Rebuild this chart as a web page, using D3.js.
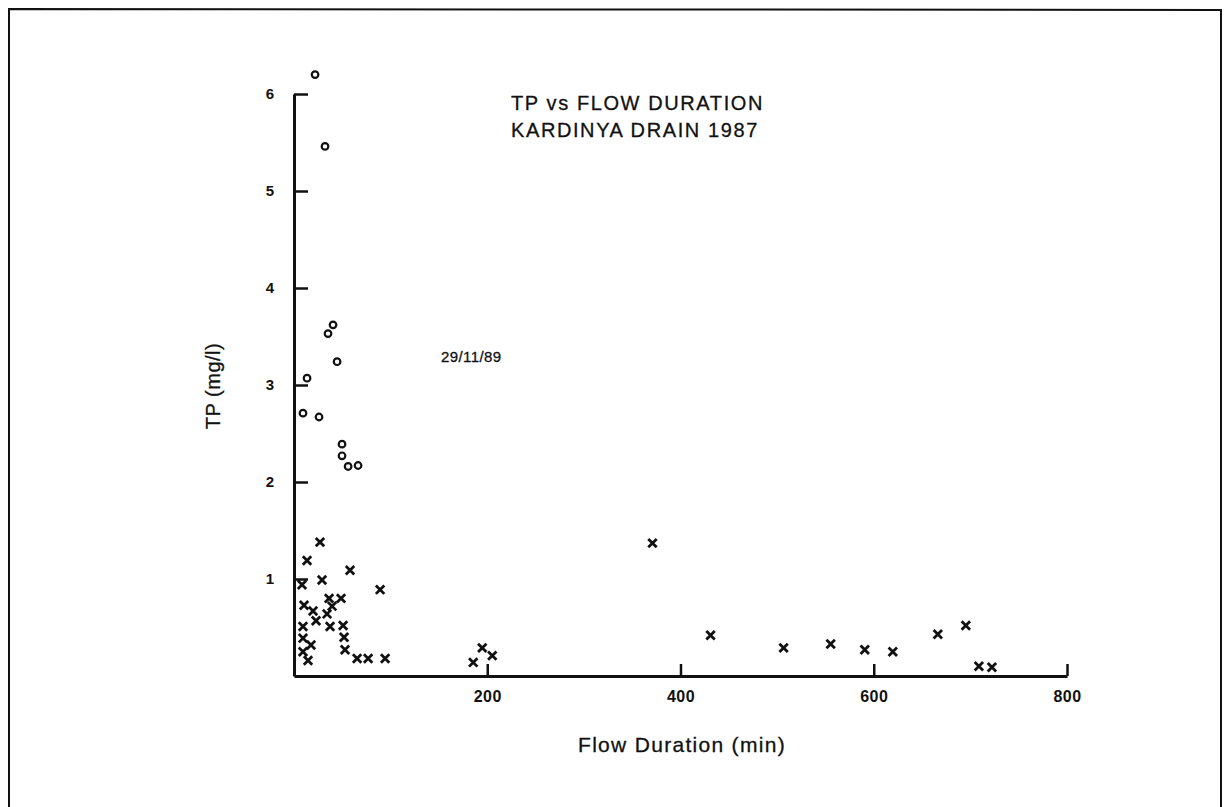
<!DOCTYPE html>
<html><head><meta charset="utf-8">
<script src="https://cdn.jsdelivr.net/npm/d3@7"></script>
<style>
body{margin:0;background:#fff;}
svg{display:block;}
text{font-family:"Liberation Sans",Arial,Helvetica,sans-serif;fill:#111;}
</style></head>
<body>
<svg id="chart" width="1229" height="807"></svg>
<script>
// Series "29/11/89" (circles)
const circleX = [21.8, 32.1, 40.4, 35.2, 44.6, 13.5, 9.3, 25.9, 49.7, 49.7, 56.0, 66.3];
const circleY = [6.20, 5.46, 3.62, 3.53, 3.24, 3.07, 2.71, 2.67, 2.39, 2.27, 2.16, 2.17];
// Other events (crosses)
const crossX = [26.9, 13.5, 58.0, 8.3, 29.0, 89.1, 36.3, 48.7, 10.4, 39.4, 19.7, 34.2, 22.8, 9.3, 37.3, 50.8, 51.8, 9.3, 17.6, 9.3, 52.8, 14.5, 65.3, 76.7, 94.3, 185.5, 194.8, 205.2, 371.0, 431.1, 506.7, 555.4, 590.7, 619.7, 666.3, 695.3, 708.8, 722.3];
const crossY = [1.38, 1.19, 1.09, 0.94, 0.99, 0.89, 0.80, 0.80, 0.73, 0.72, 0.67, 0.64, 0.57, 0.51, 0.51, 0.52, 0.40, 0.39, 0.32, 0.25, 0.27, 0.16, 0.18, 0.18, 0.18, 0.14, 0.29, 0.21, 1.37, 0.42, 0.29, 0.33, 0.27, 0.25, 0.43, 0.52, 0.10, 0.09];
const xTicks = [200, 400, 600, 800];
const yTicks = [1, 2, 3, 4, 5, 6];
const titleLines = ["TP vs FLOW DURATION", "KARDINYA DRAIN 1987"];
const annotation = "29/11/89";
const xLabel = "Flow Duration (min)";
const yLabel = "TP (mg/l)";

const svg = d3.select("#chart");

// outer frame
svg.append("path")
  .attr("d", "M9,807 L9,9 L1221,10 L1221,807")
  .attr("fill", "none").attr("stroke", "#111").attr("stroke-width", 2);

const x = d3.scaleLinear().domain([0, 800]).range([294, 1067]);
const y = d3.scaleLinear().domain([0, 6]).range([676, 94]);

// x axis
const gx = svg.append("g").attr("transform", `translate(0,${y(0)})`)
  .call(d3.axisBottom(x).tickValues(xTicks).tickFormat(d3.format("d"))
    .tickSizeInner(-12).tickSizeOuter(0).tickPadding(15));
gx.attr("font-size", null).attr("font-family", null);
gx.select(".domain").attr("stroke", "#111").attr("stroke-width", 3);
gx.selectAll(".tick line").attr("stroke", "#111").attr("stroke-width", 2.5);
gx.selectAll(".tick text").style("font-size", "16px").style("font-weight", "bold")
  .style("letter-spacing", "0.5px").style("fill", "#111");

// y axis
const gy = svg.append("g").attr("transform", `translate(${x(0)},0)`)
  .call(d3.axisLeft(y).tickValues(yTicks).tickFormat(d3.format("d"))
    .tickSizeInner(-14).tickSizeOuter(0).tickPadding(20));
gy.attr("font-size", null).attr("font-family", null);
gy.select(".domain").attr("stroke", "#111").attr("stroke-width", 3);
gy.selectAll(".tick line").attr("stroke", "#111").attr("stroke-width", 2.5);
gy.selectAll(".tick text").style("font-size", "15px").style("font-weight", "bold").style("fill", "#111");

// title
svg.selectAll("text.title").data(titleLines).join("text")
  .attr("class", "title")
  .attr("x", 511).attr("y", (d, i) => 110 + i * 27)
  .style("font-size", "20px").style("letter-spacing", "1.6px")
  .style("stroke", "#111").style("stroke-width", "0.3px")
  .text(d => d);

// annotation
svg.append("text").attr("x", 441).attr("y", 362)
  .style("font-size", "15px").style("letter-spacing", "0.4px")
  .style("stroke", "#111").style("stroke-width", "0.3px").text(annotation);

// axis labels
svg.append("text").attr("x", 682).attr("y", 752).attr("text-anchor", "middle")
  .style("font-size", "21px").style("letter-spacing", "1.3px")
  .style("stroke", "#111").style("stroke-width", "0.3px").text(xLabel);
svg.append("text").attr("transform", "translate(220,386) rotate(-90)")
  .attr("text-anchor", "middle").style("font-size", "20px").style("letter-spacing", "0.5px")
  .style("stroke", "#111").style("stroke-width", "0.3px").text(yLabel);

// crosses
const crossData = crossX.map((v, i) => [v, crossY[i]]);
svg.append("g").selectAll("path").data(crossData).join("path")
  .attr("transform", d => `translate(${x(d[0])},${y(d[1])})`)
  .attr("d", d3.symbol(d3.symbolTimes, 48))
  .attr("fill", "none").attr("stroke", "#111").attr("stroke-width", 2.8);

// circles
const circData = circleX.map((v, i) => [v, circleY[i]]);
svg.append("g").selectAll("circle").data(circData).join("circle")
  .attr("cx", d => x(d[0])).attr("cy", d => y(d[1])).attr("r", 3.3)
  .attr("fill", "#fff").attr("stroke", "#111").attr("stroke-width", 2.2);
</script>
</body></html>
